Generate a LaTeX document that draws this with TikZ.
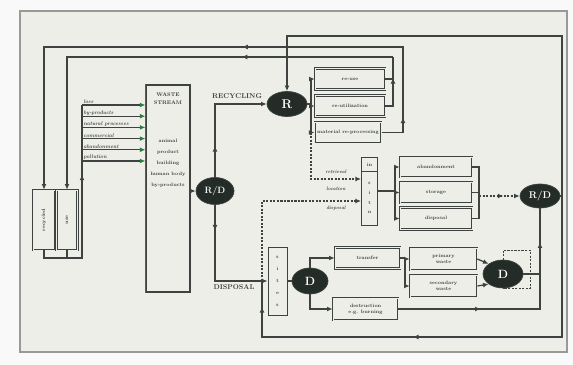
\documentclass[tikz,border=0pt]{standalone}
\usepackage{xcolor}
\usepackage{graphicx}
\usepackage{tikz}
\usetikzlibrary{shapes.geometric, arrows.meta, positioning, decorations.markings}

\definecolor{paper}{RGB}{238,238,232}
\definecolor{ink}{RGB}{62,66,64}
\definecolor{blob}{RGB}{36,44,40}
\definecolor{leaf}{RGB}{40,125,60}

\begin{document}
\begin{tikzpicture}[x=0.05cm, y=-0.05cm,
    line/.style={draw=ink, line width=1.8pt},
    arrow/.style={line, -{Latex[length=8pt, width=7pt]}},
    feed/.style={line, -{Latex[length=8pt, width=7pt, color=leaf]}},
    dashy/.style={dash pattern=on 3pt off 2pt},
    tip/.style={postaction={decorate, decoration={markings, mark=at position #1 with {\arrow[ink]{Latex[length=8pt, width=7pt]}}}}},
    box/.style={draw=ink, double=paper, double distance=1.1pt, line width=1pt, rectangle, minimum width=3.5cm, minimum height=1.05cm, align=center, text=ink, font=\bfseries\fontsize{7}{8}\selectfont},
    tallbox/.style={draw=ink, double=paper, double distance=1.1pt, line width=1pt, minimum width=1.1cm, minimum height=3cm, text=ink, font=\bfseries\fontsize{7}{8}\selectfont},
    column/.style={draw=ink, line width=1.4pt, minimum width=0.8cm, minimum height=3.4cm},
    blob/.style={ellipse, fill=blob, draw=ink, line width=1pt, text=white, inner sep=0pt, font=\bfseries\fontsize{12}{13}\selectfont},
    item/.style={font=\bfseries\itshape\fontsize{7.5}{8}\selectfont, text=ink, inner xsep=2pt, inner ysep=1.2pt},
    caps/.style={font=\bfseries\fontsize{10}{11}\selectfont, text=ink},
    lab/.style={font=\bfseries\itshape\fontsize{7}{8}\selectfont, text=ink},
    stack/.style={align=center, font=\bfseries\fontsize{7}{14}\selectfont, text=ink}
]
    \useasboundingbox (0,0) rectangle (573,365);
    \fill[white!95!gray] (0,0) rectangle (573,365);
    \draw[fill=paper, draw=gray!80, line width=2pt] (20,11) rectangle (567,352);

    % sources on the left
    \node[tallbox] (usea) at (44,220) {\rotatebox{90}{recycled}};
    \node[tallbox, minimum width=1.05cm] (useb) at (67,220) {\rotatebox{90}{use}};

    % waste stream
    \node[draw=ink, line width=1.6pt, minimum width=2.2cm, minimum height=10.35cm] (waste) at (168,188.5) {};
    \draw[leaf, line width=1.6pt] (waste.north west) -- (waste.south west);
    \node[stack, font=\bfseries\fontsize{7.5}{11}\selectfont] (wtitle) at (168,99) {WASTE\\STREAM};
    \node[stack, font=\bfseries\fontsize{7}{15.6}\selectfont] (wkinds) at (168,163) {animal\\product\\building\\human body\\by-products};

    \foreach \what [count=\i] in {loss, by-products, natural processes, commercial, abandonment, pollution}
    {
        \node[item, anchor=south west] (l\i) at (82,{93.8+11.2*\i}) {\what};
        \draw[feed] (l\i.south west) -- (l\i.south west -| waste.west);
    }

    % decision nodes
    \node[blob, minimum width=1.9cm, minimum height=1.35cm, font=\bfseries\fontsize{13}{14}\selectfont] (rdl) at (215,191) {R/D};
    \node[blob, minimum width=2cm, minimum height=1.25cm, font=\bfseries\fontsize{18}{19}\selectfont] (rec) at (287,104) {R};
    \node[blob, minimum width=2cm, minimum height=1.2cm, font=\bfseries\fontsize{14}{15}\selectfont] (rdr) at (540,196) {R/D};
    \node[blob, minimum width=1.8cm, minimum height=1.3cm, font=\bfseries\fontsize{17}{18}\selectfont] (dl) at (310,281) {D};
    \node[blob, minimum width=2cm, minimum height=1.4cm, font=\bfseries\fontsize{17}{18}\selectfont] (dr) at (503,274) {D};

    \node[caps] (lrec) at (237,96) {RECYCLING};
    \node[caps] (ldisp) at (234,287) {DISPOSAL};

    % recycling branch
    \node[box] (reuse) at (350,79) {re-use};
    \node[box] (reutil) at (350,106) {re-utilization};
    \node[box, minimum width=3.3cm] (matproc) at (348,132.5) {material re-processing};

    % in situ branch
    \node[column] (insitu) at (369.5,191) {};
    \draw[ink, line width=1.4pt] ([yshift=-0.75cm]insitu.north west) -- ([yshift=-0.75cm]insitu.north east);
    \node[stack] (insitutop) at (369.5,164.5) {in};
    \node[stack] (insitulet) at (369.5,198) {s\\i\\t\\u};
    \node[lab] (lret) at (336,172) {retrieval};
    \node[lab] (lloc) at (336,189) {location};
    \node[lab] (ldis) at (336,208) {disposal};

    \node[box, minimum width=3.6cm, minimum height=1cm] (aband) at (436,167) {abandonment};
    \node[box, minimum width=3.6cm] (storage) at (436,192.5) {storage};
    \node[box, minimum width=3.6cm, minimum height=1.1cm] (dispbox) at (436,218.5) {disposal};

    % disposal branch
    \node[column, minimum width=0.95cm] (sortd) at (277.5,281) {};
    \node[stack, font=\bfseries\fontsize{7}{17}\selectfont] (sortlet) at (277.5,281) {s\\i\\t\\e\\s};
    \node[box, minimum width=3.25cm, minimum height=1.05cm] (transfer) at (367.5,258) {transfer};
    \node[box, minimum width=3.25cm, minimum height=1.1cm] (destr) at (365.5,309) {destruction\\e.g. burning};
    \node[box, minimum width=3.35cm, minimum height=1.1cm] (primary) at (443.5,259) {primary\\waste};
    \node[box, minimum width=3.35cm, minimum height=1.1cm] (secondary) at (443.5,286) {secondary\\waste};

    % connectors
    \coordinate (ta) at (403,47);
    \coordinate (tb) at (393,57);
    \coordinate (tc) at (562,36);
    \coordinate (bc) at (562,337);
    \coordinate (dj) at (262,281);
    \coordinate (sp) at (82,258);
    \coordinate (rf) at (311,104);
    \coordinate (sf) at (395,191);
    \coordinate (sj) at (479,196);
    \coordinate (tf) at (405,258);
    \coordinate (dk) at (530,250);

    \draw[arrow] (waste.east |- rdl.west) -- (rdl.west);
    \draw[arrow, tip=0.25] (rdl.north) |- (rec.west);
    \draw[arrow, tip=0.2] (rdl.south) |- (sortd.west);

    \draw[line] (rec.east) -- (rf);
    \draw[arrow] (rf) |- (reuse.west);
    \draw[arrow] (rf) |- (reutil.west);
    \draw[arrow] (rf) |- (matproc.west);
    \draw[arrow, dashy] (rf |- matproc.west) |- ([yshift=0.6cm]insitu.west);
    \draw[arrow, dashy] (dj) |- ([yshift=-0.5cm]insitu.west);

    \draw[arrow, tip=0.06, tip=0.44] (matproc.east) -| (ta) -| (usea.north);
    \draw[line] (reuse.east) -| (tb);
    \draw[line, tip=0.63] (reutil.east) -| (tb);
    \draw[arrow, tip=0.33] (tb) -| (useb.north);

    \draw[line, tip=0.65] (usea.south) |- (sp) -- (l1.south west);
    \draw[line] (useb.south) -- (useb.south |- sp);

    \draw[line] (insitu.east) -- (sf);
    \draw[arrow] (sf) |- (aband.west);
    \draw[arrow] (sf) |- (storage.west);
    \draw[arrow] (sf) |- (dispbox.west);
    \draw[line] (aband.east) -| (sj);
    \draw[line] (storage.east) -| (sj);
    \draw[line] (dispbox.east) -| (sj);
    \draw[arrow, dashy, tip=0.6] (sj) -- (rdr.west);

    \draw[line] (sortd.east) -- (dl.west);
    \draw[arrow] (dl.north) |- (transfer.west);
    \draw[arrow] (dl.south) |- (destr.west);
    \draw[line] (transfer.east) -- (tf);
    \draw[arrow] (tf) |- (primary.west);
    \draw[arrow] (tf) |- (secondary.west);
    \draw[arrow] (primary.east) -- (dr.north west);
    \draw[arrow] (secondary.east) -- (dr.south west);
    \draw[line, dashy, line width=1pt] (dr.north) |- (dk) |- (dr.south);
    \draw[line] (dr.east) -- (dr.east -| rdr.south);
    \draw[line, tip=0.34, tip=0.86] (destr.east) -| (rdr.south);

    \draw[arrow] (rdr.east) -| (tc) -| (rec.north);
    \draw[line, tip=0.585, tip=0.948] (rdr.east) -| (bc) -| (dj);

\end{tikzpicture}
\end{document}
